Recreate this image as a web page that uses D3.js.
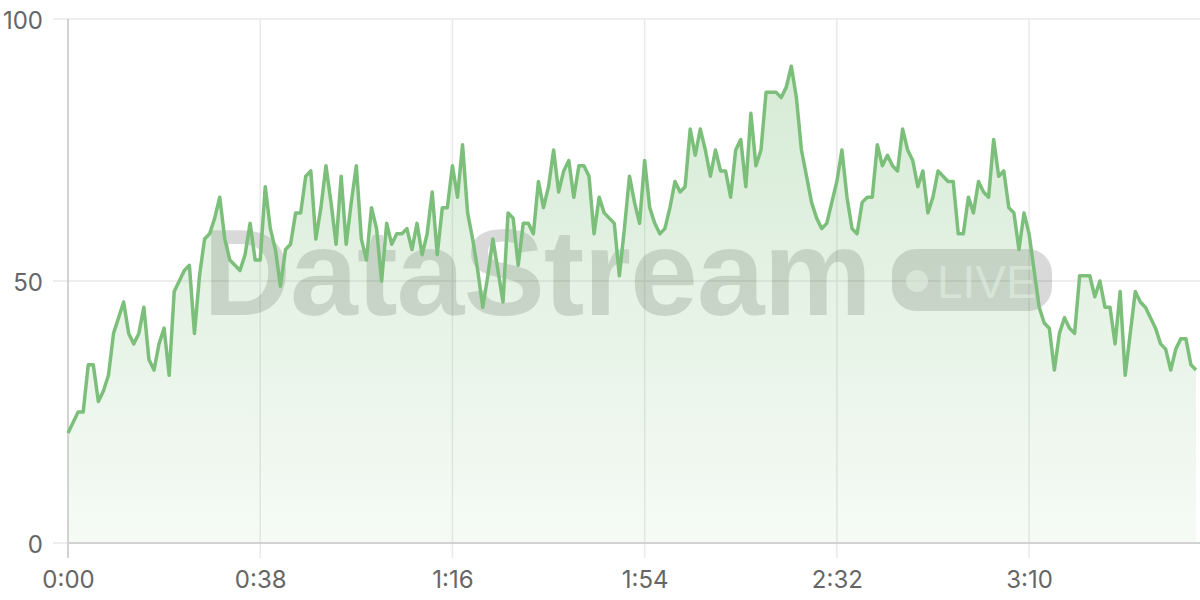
<!DOCTYPE html>
<html>
<head>
<meta charset="utf-8">
<script src="https://cdn.jsdelivr.net/npm/d3@7"></script>
<style>
  html, body { margin: 0; padding: 0; background: #ffffff; }
  svg { display: block; }
</style>
</head>
<body>
<svg id="chart" width="1200" height="600"></svg>
<script>
// ---- data ----
const values = [
  21,23,25,25,34,34,27,29,32,40, 43,46,40,38,40,45,35,33,38,41,
  32,48,50,52,53,40,51,58,59,62, 66,58,54,53,52,55,61,54,54,68,
  60,56,49,56,57,63,63,70,71,58, 64,72,65,57,70,57,65,72,58,54,
  64,60,50,61,57,59,59,60,56,61, 55,59,67,55,64,64,72,66,76,63,
  58,52,45,51,58,52,46,63,62,53, 61,61,59,69,64,68,75,67,71,73,
  66,72,72,70,59,66,63,62,61,51, 60,70,65,61,73,64,61,59,60,64,
  69,67,68,79,74,79,75,70,75,71, 71,66,75,77,68,82,72,75,86,86,
  86,85,87,91,85,75,70,65,62,60, 61,65,69,75,66,60,59,65,66,66,
  76,72,74,72,71,79,75,73,68,71, 63,66,71,70,69,69,59,59,66,63,
  69,67,66,77,70,71,64,63,56,63, 59,52,45,42,41,33,40,43,41,40,
  51,51,51,47,50,45,45,38,48,32, 40,48,46,45,43,41,38,37,33,37,
  39,39,34,33
];
const xTickValues = [0, 38, 76, 114, 152, 190];
const xTickLabels = ["0:00", "0:38", "1:16", "1:54", "2:32", "3:10"];
const yTickValues = [0, 50, 100];
const yTickLabels = ["0", "50", "100"];

// ---- layout ----
const svg = d3.select("#chart");
const x = d3.scaleLinear().domain([0, values.length - 1]).range([68, 1196]);
const y = d3.scaleLinear().domain([0, 100]).range([543, 19]);
const tickLen = 15;
const lineColor = "#7cbf7b";
const labelFont = "Inter, 'Noto Sans', sans-serif";

const defs = svg.append("defs");
const grad = defs.append("linearGradient")
  .attr("id", "areaGrad").attr("gradientUnits", "userSpaceOnUse")
  .attr("x1", 0).attr("x2", 0).attr("y1", y(100)).attr("y2", y(0));
grad.append("stop").attr("offset", "0%").attr("stop-color", lineColor).attr("stop-opacity", 0.34);
grad.append("stop").attr("offset", "100%").attr("stop-color", lineColor).attr("stop-opacity", 0.07);

// grid lines
const grid = svg.append("g");
grid.selectAll("line.h").data(yTickValues).join("line")
  .attr("x1", x.range()[0] - tickLen).attr("x2", 1200)
  .attr("y1", d => y(d)).attr("y2", d => y(d))
  .attr("stroke", "#e9e9e9").attr("stroke-width", 1.5);
grid.selectAll("line.v").data(xTickValues).join("line")
  .attr("x1", d => x(d)).attr("x2", d => x(d))
  .attr("y1", y(100)).attr("y2", y(0) + tickLen)
  .attr("stroke", "#e9e9e9").attr("stroke-width", 1.5);

// watermark
const wm = svg.append("g").attr("class", "watermark");
wm.append("text")
  .attr("x", 203).attr("y", 315)
  .attr("font-family", "'Liberation Sans', Arial, sans-serif")
  .attr("font-weight", "bold").attr("font-size", 122)
  .attr("letter-spacing", "-1")
  .attr("fill", "#000").attr("fill-opacity", 0.15)
  .text("DataStream");
wm.append("rect")
  .attr("x", 892).attr("y", 249).attr("width", 160).attr("height", 62)
  .attr("rx", 24).attr("fill", "#000").attr("fill-opacity", 0.15);
wm.append("circle").attr("cx", 917).attr("cy", 281).attr("r", 11)
  .attr("fill", "#fff").attr("fill-opacity", 0.55);
wm.append("text")
  .attr("x", 937).attr("y", 298)
  .attr("font-family", "'Liberation Sans', Arial, sans-serif")
  .attr("font-size", 46)
  .attr("fill", "#fff").attr("fill-opacity", 0.55)
  .text("LIVE");

// area + line
const area = d3.area().x((d, i) => x(i)).y0(y(0)).y1(d => y(d));
const line = d3.line().x((d, i) => x(i)).y(d => y(d));
svg.append("path").datum(values).attr("d", area).attr("fill", "url(#areaGrad)");

// axes lines
svg.append("line").attr("x1", x.range()[0]).attr("x2", x.range()[0])
  .attr("y1", y(100)).attr("y2", y(0) + tickLen)
  .attr("stroke", "#d2d2d2").attr("stroke-width", 2);
svg.append("line").attr("x1", x.range()[0]).attr("x2", 1200)
  .attr("y1", y(0)).attr("y2", y(0))
  .attr("stroke", "#d2d2d2").attr("stroke-width", 2);

svg.append("path").datum(values).attr("d", line)
  .attr("fill", "none").attr("stroke", lineColor).attr("stroke-width", 3.5)
  .attr("stroke-linejoin", "round");

// axis labels via d3 axes
const xAxis = d3.axisBottom(x).tickValues(xTickValues)
  .tickFormat((d, i) => xTickLabels[i]).tickSize(0).tickPadding(0);
const gx = svg.append("g").attr("transform", `translate(0, 571)`).call(xAxis);
gx.select(".domain").remove();
gx.selectAll("text").attr("font-family", labelFont).attr("font-size", 24)
  .attr("fill", "#666").attr("dy", "0.71em").attr("y", 0);

const yAxis = d3.axisLeft(y).tickValues(yTickValues)
  .tickFormat((d, i) => yTickLabels[i]).tickSize(0).tickPadding(0);
const gy = svg.append("g").attr("transform", `translate(43, 0)`).call(yAxis);
gy.select(".domain").remove();
gy.selectAll("text").attr("font-family", labelFont).attr("font-size", 24)
  .attr("fill", "#666").attr("dy", "0.38em").attr("x", 0);
</script>
</body>
</html>
